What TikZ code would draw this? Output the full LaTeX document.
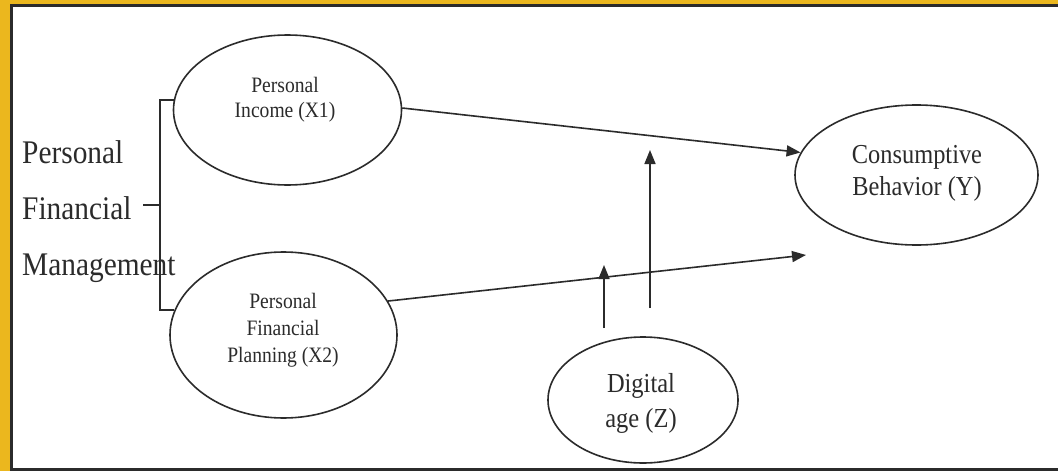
\documentclass[tikz,border=0pt]{standalone}
\usepackage{fontspec}
\setmainfont{Liberation Serif}
\newfontfamily\nf[FakeStretch=0.89]{Liberation Serif}
\usetikzlibrary{shapes.geometric,arrows.meta}
\definecolor{gold}{HTML}{EBB71E}
\definecolor{ink}{HTML}{2B2B2B}
\begin{document}
\begin{tikzpicture}[x=1pt,y=-1pt,
  ell/.style={ellipse,draw=ink,line width=1.6pt,inner sep=0pt},
  arr/.style={draw=ink,line width=1.6pt,-{Triangle[length=14pt,width=11pt]}},
  lin/.style={draw=ink,line width=1.6pt},
  txt/.style={anchor=base,inner sep=0pt,text=ink}]
\useasboundingbox (0,0) rectangle (1058,471);
% frame
\fill[gold] (0,0) rectangle (1058,471);
\fill[white] (11,5) rectangle (1058,470);
\draw[ink,line width=3pt] (1058,5.5) -- (11.5,5.5) -- (11.5,469.5) -- (1058,469.5);
% ellipses
\node[ell,minimum width=228pt,minimum height=150pt] (e1) at (287.5,110) {};
\node[ell,minimum width=227pt,minimum height=166pt] (e2) at (283.5,335) {};
\node[ell,minimum width=243pt,minimum height=140pt] (ey) at (916.5,175) {};
\node[ell,minimum width=190pt,minimum height=126pt] (ez) at (643,400) {};
% texts
\node[txt] (t1) at (285,92) {\nf\fontsize{22}{25}\selectfont\begin{tabular}[t]{@{}c@{}}Personal\\Income (X1)\end{tabular}};
\node[txt] (t2) at (283,308) {\nf\fontsize{22}{27}\selectfont\begin{tabular}[t]{@{}c@{}}Personal\\Financial\\Planning (X2)\end{tabular}};
\node[txt] (ty) at (917,163) {\nf\fontsize{27.4}{32}\selectfont\begin{tabular}[t]{@{}c@{}}Consumptive\\Behavior (Y)\end{tabular}};
\node[txt] (tz) at (641,392) {\nf\fontsize{27.5}{35}\selectfont\begin{tabular}[t]{@{}c@{}}Digital\\age (Z)\end{tabular}};
\node[txt,anchor=base west] (pfm) at (22,163.5) {\nf\fontsize{33}{56}\selectfont\begin{tabular}[t]{@{}l@{}}Personal\\Financial\\Management\end{tabular}};
% bracket
\coordinate (bx) at (160,205);
\coordinate (tk) at (143,205);
\draw[lin] (e1.175) -| (bx) |- (e2.167);
\draw[lin] (tk) -- (bx);
% arrows
\coordinate (m2) at (806,255);
\draw[arr] (e1.1) -- (ey.169.5);
\draw[arr] (e2.18) -- (m2);
\coordinate (za0) at (604,328);
\coordinate (za1) at (604,265);
\coordinate (zb0) at (650,308);
\coordinate (zb1) at (650,150);
\draw[arr] (za0) -- (za1);
\draw[arr] (zb0) -- (zb1);
\end{tikzpicture}
\end{document}
